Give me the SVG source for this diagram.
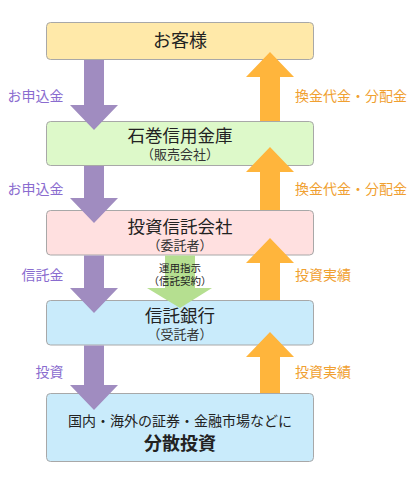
<svg xmlns="http://www.w3.org/2000/svg" width="414" height="500" viewBox="0 0 414 500">
<style>
.box{stroke:#a8a8a8;stroke-width:1}
.t{font-family:"Noto Sans CJK JP","Noto Sans",sans-serif;fill:#222;text-anchor:middle}
.s{font-family:"Noto Sans CJK JP","Noto Sans",sans-serif;fill:#333;text-anchor:middle;font-size:13px}
.lp{font-family:"Noto Sans CJK JP",sans-serif;font-size:14px;fill:#8a6ccf;text-anchor:end}
.lo{font-family:"Noto Sans CJK JP",sans-serif;font-size:14px;fill:#f0a030}
.pu{fill:#a08cc0}
.or{fill:#ffb53c}
.gr{fill:#b5df90}
</style>
<rect width="414" height="500" fill="#fff"/>
<g id="n1"><rect class="box" x="46.5" y="22.5" width="267" height="37" rx="4" fill="#ffe9a9"/><text class="t" x="180" y="47" font-size="18">お客様</text></g>
<g id="n2"><rect class="box" x="46.5" y="121.5" width="267" height="44" rx="4" fill="#ddf9c9"/><text class="t" x="180" y="141.5" font-size="17.5">石巻信用金庫</text><text class="s" x="180" y="158.5">（販売会社）</text></g>
<g id="n3"><rect class="box" x="46.5" y="210.5" width="267" height="44.5" rx="4" fill="#ffe0e0"/><text class="t" x="180" y="232.5" font-size="17.5">投資信託会社</text><text class="s" x="180" y="249.5">（委託者）</text></g>
<g id="n4"><rect class="box" x="46.5" y="300.5" width="267" height="44.5" rx="4" fill="#c9ebfb"/><text class="t" x="180" y="321.5" font-size="17.5">信託銀行</text><text class="s" x="180" y="338.5">（受託者）</text></g>
<g id="n5"><rect class="box" x="46.5" y="393.5" width="267" height="68" rx="4" fill="#c9ebfb"/><text class="t" x="180" y="426" font-size="14">国内・海外の証券・金融市場などに</text><text class="t" x="180" y="450" font-size="18" font-weight="bold">分散投資</text></g>
<g id="connectors">
<polygon class="pu" points="84,60 104,60 104,105 118,105 94,130 70,105 84,105"/>
<polygon class="pu" points="84,166 104,166 104,198 118,198 94,223 70,198 84,198"/>
<polygon class="pu" points="84,255.5 104,255.5 104,288 118,288 94,313 70,288 84,288"/>
<polygon class="pu" points="84,345.5 104,345.5 104,385 118,385 94,410 70,385 84,385"/>
<polygon class="or" points="260,121 280,121 280,77 294,77 270,52 246,77 260,77"/>
<polygon class="or" points="260,210 280,210 280,172 294,172 270,147 246,172 260,172"/>
<polygon class="or" points="260,300 280,300 280,263 294,263 270,238 246,263 260,263"/>
<polygon class="or" points="260,393 280,393 280,357 294,357 270,332 246,357 260,357"/>
<polygon class="gr" points="165,255.5 195,255.5 195,288 212,288 180,308 147,288 165,288"/>
<text class="lp" x="63.5" y="101">お申込金</text>
<text class="lp" x="63.5" y="193.5">お申込金</text>
<text class="lp" x="63.5" y="280">信託金</text>
<text class="lp" x="63.5" y="377">投資</text>
<text class="lo" x="295" y="101">換金代金・分配金</text>
<text class="lo" x="295" y="193.5">換金代金・分配金</text>
<text class="lo" x="295" y="280">投資実績</text>
<text class="lo" x="295" y="377">投資実績</text>
<text class="t" x="180" y="272" font-size="10.5">運用指示</text>
<text class="t" x="180" y="284.5" font-size="10.5">（信託契約）</text>
</g>
</svg>
